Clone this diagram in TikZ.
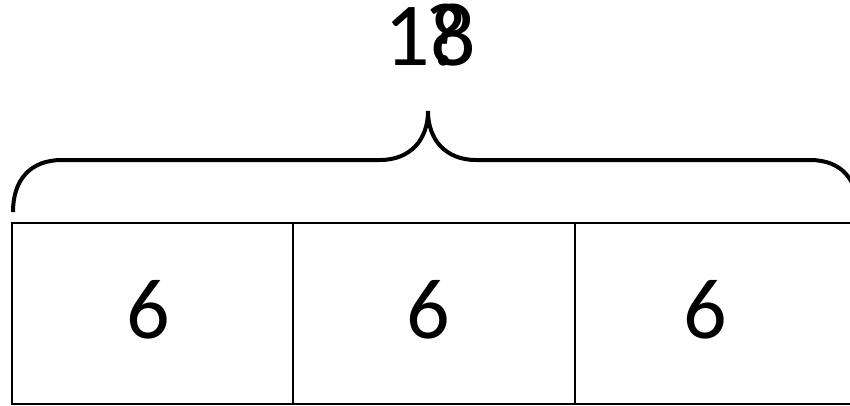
\documentclass[tikz,border=0pt]{standalone}
\usepackage{fontspec}
\setmainfont{Carlito}
\begin{document}
\begin{tikzpicture}[x=1pt,y=-1pt,
  cell/.style={draw=black,line width=2pt},
  brace/.style={draw=black,line width=4pt},
  num/.style={anchor=base,inner sep=0pt,font=\fontsize{86}{86}\selectfont},
  total/.style={anchor=base,inner sep=0pt,font=\fontsize{90}{90}\selectfont}]
\useasboundingbox (0,0) rectangle (850,405);
\begin{scope}
\clip (0,0) rectangle (850,405);
\draw[cell] (12,223) rectangle (293,404);
\draw[cell] (293,223) rectangle (575,404);
\draw[cell] (575,223) rectangle (870,404);
\draw[brace] (13,212) .. controls (13,180) and (30,160) .. (62,160) -- (380,160)
  .. controls (410,160) and (428,140) .. (428,111)
  .. controls (428,140) and (446,160) .. (476,160) -- (810,160)
  .. controls (842,160) and (858,180) .. (858,212);
\end{scope}
\node[num] (a) at (148,338) {6};
\node[num] (b) at (428,338) {6};
\node[num] (c) at (705,338) {6};
\node[total] (t1) at (430,65) {18};
\node[total] (t2) at (424,65) {\phantom{1}?};
\end{tikzpicture}
\end{document}
